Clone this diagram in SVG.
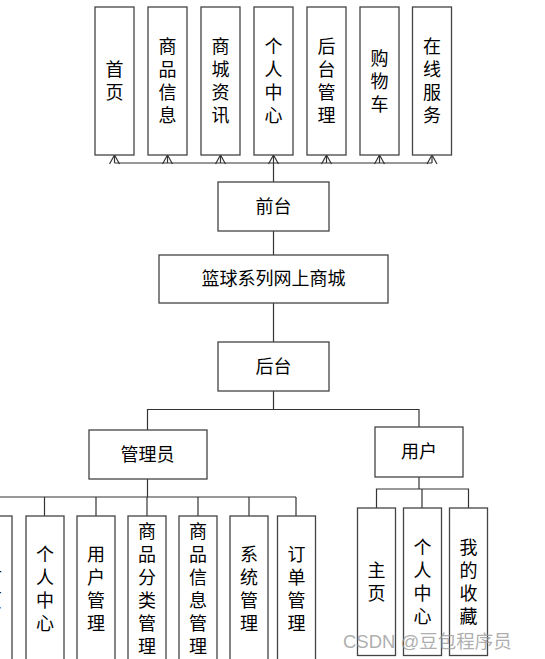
<svg xmlns="http://www.w3.org/2000/svg" width="545" height="659" viewBox="0 0 545 659">
<style>
.box{fill:#fff;stroke:#444;stroke-width:1.3}
.ln{fill:none;stroke:#333;stroke-width:1.2}
.t{font-family:"Liberation Serif","Noto Sans CJK SC",serif;font-size:18px;fill:#000;text-anchor:middle}
.wm{font-family:"Liberation Sans","Noto Sans CJK SC",sans-serif;font-size:18.5px;fill:#999;fill-opacity:0.8}
</style>
<defs>
<marker id="arr" viewBox="0 0 12 12" refX="12" refY="6" markerWidth="12" markerHeight="12" markerUnits="userSpaceOnUse" orient="auto">
<path d="M3,1 L12,6 L3,11" fill="none" stroke="#333" stroke-width="1.2"/>
</marker>
</defs>
<rect width="545" height="659" fill="#fff"/>
<g id="connectors">
<path class="ln" d="M114.5,163 H432"/>
<path class="ln" d="M273.5,182 V163" stroke-width="2"/>
<path class="ln" d="M114.5,163 V155" marker-end="url(#arr)"/>
<path class="ln" d="M167.5,163 V155" marker-end="url(#arr)"/>
<path class="ln" d="M220.5,163 V155" marker-end="url(#arr)"/>
<path class="ln" d="M273.5,163 V155" marker-end="url(#arr)"/>
<path class="ln" d="M326.5,163 V155" marker-end="url(#arr)"/>
<path class="ln" d="M379.5,163 V155" marker-end="url(#arr)"/>
<path class="ln" d="M432,163 V155" marker-end="url(#arr)"/>
<path class="ln" d="M273.5,231 V255"/>
<path class="ln" d="M273.5,303 V342"/>
<path class="ln" d="M273.5,391 V409.5"/>
<path class="ln" d="M147.5,430 V409.5 H419 V427"/>
<path class="ln" d="M147.5,479 V497" stroke-width="2"/>
<path class="ln" d="M0,497 H296"/>
<path class="ln" d="M44.5,497 V516"/>
<path class="ln" d="M96,497 V516"/>
<path class="ln" d="M147,497 V516"/>
<path class="ln" d="M198,497 V516"/>
<path class="ln" d="M249,497 V516"/>
<path class="ln" d="M296,497 V516"/>
<path class="ln" d="M419,477 V489" stroke-width="2"/>
<path class="ln" d="M376.5,508 V489 H468.5 V508"/>
<path class="ln" d="M422,489 V508"/>
</g>
<g id="n-shouye"><rect class="box" x="95" y="7" width="39" height="148"/><text class="t"><tspan x="114.5" y="76">首</tspan><tspan x="114.5" y="99">页</tspan></text></g>
<g id="n-spxx"><rect class="box" x="148" y="7" width="39" height="148"/><text class="t"><tspan x="167.5" y="53">商</tspan><tspan x="167.5" y="76">品</tspan><tspan x="167.5" y="99">信</tspan><tspan x="167.5" y="122">息</tspan></text></g>
<g id="n-scxx"><rect class="box" x="201" y="7" width="39" height="148"/><text class="t"><tspan x="220.5" y="53">商</tspan><tspan x="220.5" y="76">城</tspan><tspan x="220.5" y="99">资</tspan><tspan x="220.5" y="122">讯</tspan></text></g>
<g id="n-grzx"><rect class="box" x="254" y="7" width="39" height="148"/><text class="t"><tspan x="273.5" y="53">个</tspan><tspan x="273.5" y="76">人</tspan><tspan x="273.5" y="99">中</tspan><tspan x="273.5" y="122">心</tspan></text></g>
<g id="n-htgl"><rect class="box" x="307" y="7" width="39" height="148"/><text class="t"><tspan x="326.5" y="53">后</tspan><tspan x="326.5" y="76">台</tspan><tspan x="326.5" y="99">管</tspan><tspan x="326.5" y="122">理</tspan></text></g>
<g id="n-gwc"><rect class="box" x="360" y="7" width="39" height="148"/><text class="t"><tspan x="379.5" y="65">购</tspan><tspan x="379.5" y="88">物</tspan><tspan x="379.5" y="111">车</tspan></text></g>
<g id="n-zxfw"><rect class="box" x="412.5" y="7" width="39" height="148"/><text class="t"><tspan x="432" y="53">在</tspan><tspan x="432" y="76">线</tspan><tspan x="432" y="99">服</tspan><tspan x="432" y="122">务</tspan></text></g>
<g id="n-qiantai"><rect class="box" x="218" y="182" width="111" height="49"/><text class="t" x="273.5" y="213">前台</text></g>
<g id="n-root"><rect class="box" x="159" y="255" width="229" height="48"/><text class="t" x="273.5" y="285">篮球系列网上商城</text></g>
<g id="n-houtai"><rect class="box" x="218" y="342" width="111" height="49"/><text class="t" x="273.5" y="373">后台</text></g>
<g id="n-admin"><rect class="box" x="89" y="430" width="118" height="49"/><text class="t" x="147.5" y="461">管理员</text></g>
<g id="n-user"><rect class="box" x="375" y="427" width="88" height="50"/><text class="t" x="419" y="458">用户</text></g>
<g id="n-a0"><rect class="box" x="-26" y="516" width="38" height="160"/><text class="t"><tspan x="-7" y="584">首</tspan><tspan x="-7" y="607">页</tspan></text></g>
<g id="n-a1"><rect class="box" x="26" y="516" width="38" height="160"/><text class="t"><tspan x="45" y="561">个</tspan><tspan x="45" y="584">人</tspan><tspan x="45" y="607">中</tspan><tspan x="45" y="630">心</tspan></text></g>
<g id="n-a2"><rect class="box" x="77" y="516" width="38" height="160"/><text class="t"><tspan x="96" y="561">用</tspan><tspan x="96" y="584">户</tspan><tspan x="96" y="607">管</tspan><tspan x="96" y="630">理</tspan></text></g>
<g id="n-a3"><rect class="box" x="128" y="516" width="38" height="160"/><text class="t"><tspan x="147" y="538">商</tspan><tspan x="147" y="561">品</tspan><tspan x="147" y="584">分</tspan><tspan x="147" y="607">类</tspan><tspan x="147" y="630">管</tspan><tspan x="147" y="653">理</tspan></text></g>
<g id="n-a4"><rect class="box" x="179" y="516" width="38" height="160"/><text class="t"><tspan x="198" y="538">商</tspan><tspan x="198" y="561">品</tspan><tspan x="198" y="584">信</tspan><tspan x="198" y="607">息</tspan><tspan x="198" y="630">管</tspan><tspan x="198" y="653">理</tspan></text></g>
<g id="n-a5"><rect class="box" x="230" y="516" width="38" height="160"/><text class="t"><tspan x="249" y="561">系</tspan><tspan x="249" y="584">统</tspan><tspan x="249" y="607">管</tspan><tspan x="249" y="630">理</tspan></text></g>
<g id="n-a6"><rect class="box" x="277.5" y="516" width="38" height="160"/><text class="t"><tspan x="296.5" y="561">订</tspan><tspan x="296.5" y="584">单</tspan><tspan x="296.5" y="607">管</tspan><tspan x="296.5" y="630">理</tspan></text></g>
<g id="n-u1"><rect class="box" x="357.5" y="508" width="38" height="147.5"/><text class="t"><tspan x="376.5" y="577">主</tspan><tspan x="376.5" y="600">页</tspan></text></g>
<g id="n-u2"><rect class="box" x="403.5" y="508" width="38" height="147.5"/><text class="t"><tspan x="422.5" y="554">个</tspan><tspan x="422.5" y="577">人</tspan><tspan x="422.5" y="600">中</tspan><tspan x="422.5" y="623">心</tspan></text></g>
<g id="n-u3"><rect class="box" x="449.5" y="508" width="38" height="147.5"/><text class="t"><tspan x="468.5" y="554">我</tspan><tspan x="468.5" y="577">的</tspan><tspan x="468.5" y="600">收</tspan><tspan x="468.5" y="623">藏</tspan></text></g>
<text class="wm" x="343" y="648">CSDN @豆包程序员</text>
</svg>
